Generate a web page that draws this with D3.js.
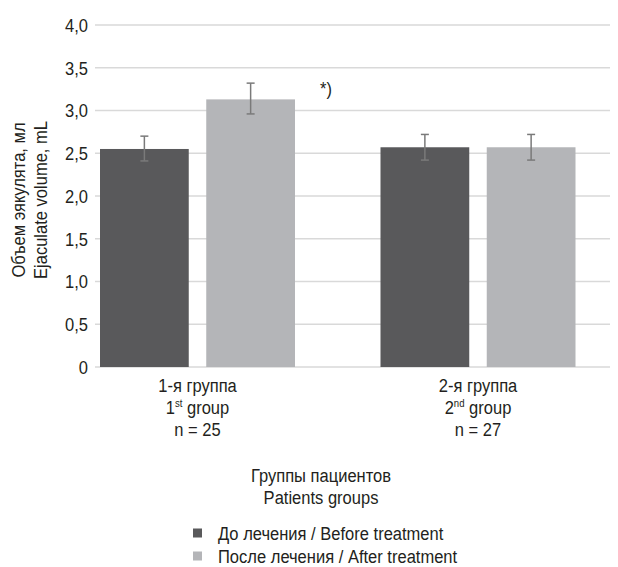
<!DOCTYPE html>
<html>
<head>
<meta charset="utf-8">
<script src="https://cdn.jsdelivr.net/npm/d3@7"></script>
<style>
  html, body { margin: 0; padding: 0; background: #fff; }
  svg text { font-family: "Liberation Sans", Arial, sans-serif; fill: #231f20; }
</style>
</head>
<body>
<svg id="chart" width="618" height="567"></svg>
<script>
// Ejaculate volume before / after treatment, by patient group
const groups = ["g1", "g2"];
const groupLines = [
  [["1-я группа"], ["1", "st", " group"], ["n = 25"]],
  [["2-я группа"], ["2", "nd", " group"], ["n = 27"]]
];
const series = ["before", "after"];
const seriesLabels = ["До лечения / Before treatment", "После лечения / After treatment"];
const seriesColors = ["#59595b", "#b4b5b8"];
const meanBefore = [2.55, 2.57];
const meanAfter = [3.13, 2.57];
const errBefore = [[2.41, 2.70], [2.42, 2.72]];
const errAfter = [[2.96, 3.32], [2.42, 2.72]];
const yTicks = [0, 0.5, 1.0, 1.5, 2.0, 2.5, 3.0, 3.5, 4.0];

const svg = d3.select("#chart");
const font = 19;
const narrow = 0.87; // horizontal squeeze for a narrow sans look

// text placed at (x, y), condensed horizontally
function ntext(parent, x, y, anchor, rotate) {
  return parent.append("text")
    .attr("transform", `translate(${x},${y})${rotate ? " rotate(" + rotate + ")" : ""} scale(${narrow},1)`)
    .attr("text-anchor", anchor || "start")
    .attr("font-size", font);
}

const y = d3.scaleLinear().domain([0, 4]).range([367, 25]);
const x0 = d3.scaleBand().domain(groups).range([57.25, 618.25]);
const x1 = d3.scaleBand().domain(series).range([42.75, 237.75]).paddingInner(17.5 / 106.25);

const gridLeft = 95, gridRight = 610;
const fmt = v => v === 0 ? "0" : d3.format(".1f")(v).replace(".", ",");

// horizontal gridlines
svg.append("g").selectAll("line").data(yTicks).join("line")
  .attr("x1", gridLeft).attr("x2", gridRight)
  .attr("y1", d => y(d)).attr("y2", d => y(d))
  .attr("stroke", "#d9d9d9").attr("stroke-width", 1.3);

// y tick labels
const yLab = svg.append("g");
yTicks.forEach(v => ntext(yLab, 88, y(v), "end").attr("dy", "0.36em").text(fmt(v)));

// y-axis title
const yTitle = ntext(svg, 25, 200, "middle", -90);
yTitle.append("tspan").attr("x", 0).attr("dy", 0).text("Объем эякулята, мл");
yTitle.append("tspan").attr("x", 0).attr("dy", 22.5).text("Ejaculate volume, mL");

// bars
const rows = groups.map((g, i) => [
  { g, s: "before", v: meanBefore[i], e: errBefore[i], c: seriesColors[0] },
  { g, s: "after", v: meanAfter[i], e: errAfter[i], c: seriesColors[1] }
]).flat();

svg.append("g").selectAll("rect").data(rows).join("rect")
  .attr("x", d => x0(d.g) + x1(d.s))
  .attr("y", d => y(d.v))
  .attr("width", x1.bandwidth())
  .attr("height", d => y(0) - y(d.v))
  .attr("fill", d => d.c);

// error bars
const eb = svg.append("g").attr("stroke", "#7a7a7a").attr("stroke-width", 1.5);
rows.forEach(d => {
  const cx = x0(d.g) + x1(d.s) + x1.bandwidth() / 2;
  eb.append("line").attr("x1", cx).attr("x2", cx).attr("y1", y(d.e[0])).attr("y2", y(d.e[1]));
  eb.append("line").attr("x1", cx - 4).attr("x2", cx + 4).attr("y1", y(d.e[0])).attr("y2", y(d.e[0]));
  eb.append("line").attr("x1", cx - 4).attr("x2", cx + 4).attr("y1", y(d.e[1])).attr("y2", y(d.e[1]));
});

// significance mark
ntext(svg, 320, 95, "start").text("*)");

// group labels
groups.forEach((g, i) => {
  const cx = x0(g) + x1("before") + (x1("after") + x1.bandwidth() - x1("before")) / 2;
  groupLines[i].forEach((parts, j) => {
    const t = ntext(svg, cx, 392 + j * 22, "middle");
    if (parts.length === 1) {
      t.text(parts[0]);
    } else {
      t.append("tspan").text(parts[0]);
      t.append("tspan").attr("font-size", 11).attr("dy", -7).text(parts[1]);
      t.append("tspan").attr("dy", 7).text(parts[2]);
    }
  });
});

// x-axis title
ntext(svg, 321, 482, "middle").text("Группы пациентов");
ntext(svg, 321, 504, "middle").text("Patients groups");

// legend
const lg = svg.append("g").selectAll("g").data(seriesLabels).join("g")
  .attr("transform", (d, i) => `translate(193,${533 + i * 23})`);
lg.append("rect").attr("x", 0).attr("y", -4.5).attr("width", 9).attr("height", 9)
  .attr("fill", (d, i) => seriesColors[i]);
lg.each(function (d) {
  ntext(d3.select(this), 25, 0, "start").attr("dy", "0.36em").text(d);
});
</script>
</body>
</html>
